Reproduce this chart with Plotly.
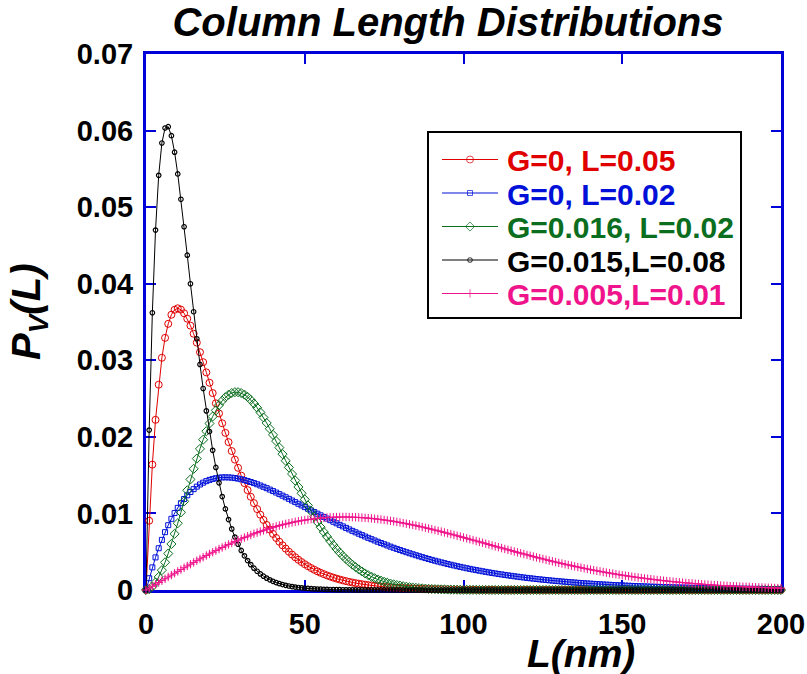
import plotly.graph_objects as go

# ---------------- data ----------------
L_nm = list(range(0, 201))  # column length grid, 1 nm steps

red_G0_L005 = [
    0.0, 0.009048, 0.016375, 0.022225, 0.026813, 0.030327, 0.032929, 0.034761, 0.035946, 0.036591,
    0.036788, 0.036616, 0.036143, 0.035429, 0.034524, 0.033470, 0.032304, 0.031056, 0.029754, 0.028418,
    0.027067, 0.025716, 0.024377, 0.023060, 0.021772, 0.020521, 0.019311, 0.018146, 0.017027, 0.015957,
    0.014936, 0.013965, 0.013044, 0.012171, 0.011347, 0.010569, 0.009837, 0.009148, 0.008501, 0.007894,
    0.007326, 0.006795, 0.006298, 0.005835, 0.005402, 0.004999, 0.004624, 0.004275, 0.003950, 0.003649,
    0.003369, 0.003109, 0.002869, 0.002646, 0.002439, 0.002248, 0.002071, 0.001907, 0.001756, 0.001616,
    0.001487, 0.001368, 0.001258, 0.001157, 0.001064, 0.000977, 0.000898, 0.000825, 0.000758, 0.000696,
    0.000638, 0.000586, 0.000538, 0.000493, 0.000452, 0.000415, 0.000380, 0.000349, 0.000320, 0.000293,
    0.000268, 0.000246, 0.000226, 0.000207, 0.000189, 0.000173, 0.000158, 0.000145, 0.000133, 0.000121,
    0.000111, 0.000102, 0.000093, 0.000085, 0.000078, 0.000071, 0.000065, 0.000059, 0.000054, 0.000050,
    0.000045, 0.000041, 0.000038, 0.000034, 0.000031, 0.000029, 0.000026, 0.000024, 0.000022, 0.000020,
    0.000018, 0.000017, 0.000015, 0.000014, 0.000013, 0.000012, 0.000011, 0.000010, 0.000009, 0.000008,
    0.000007, 0.000007, 0.000006, 0.000006, 0.000005, 0.000005, 0.000004, 0.000004, 0.000004, 0.000003,
    0.000003, 0.000003, 0.000002, 0.000002, 0.000002, 0.000002, 0.000002, 0.000001, 0.000001, 0.000001,
    0.000001, 0.000001, 0.000001, 0.000001, 0.000001, 0.000001, 0.0, 0.0, 0.0, 0.0,
    0.0, 0.0, 0.0, 0.0, 0.0, 0.0, 0.0, 0.0, 0.0, 0.0,
    0.0, 0.0, 0.0, 0.0, 0.0, 0.0, 0.0, 0.0, 0.0, 0.0,
    0.0, 0.0, 0.0, 0.0, 0.0, 0.0, 0.0, 0.0, 0.0, 0.0,
    0.0, 0.0, 0.0, 0.0, 0.0, 0.0, 0.0, 0.0, 0.0, 0.0,
    0.0, 0.0, 0.0, 0.0, 0.0, 0.0, 0.0, 0.0, 0.0, 0.0,
    0.0,
]

blue_G0_L002 = [
    0.0, 0.001537, 0.002954, 0.004257, 0.005454, 0.006550, 0.007552, 0.008465, 0.009295, 0.010047,
    0.010725, 0.011335, 0.011881, 0.012366, 0.012795, 0.013171, 0.013499, 0.013780, 0.014018, 0.014217,
    0.014379, 0.014505, 0.014600, 0.014666, 0.014703, 0.014715, 0.014704, 0.014671, 0.014617, 0.014546,
    0.014457, 0.014353, 0.014235, 0.014105, 0.013962, 0.013809, 0.013647, 0.013476, 0.013298, 0.013112,
    0.012921, 0.012725, 0.012524, 0.012320, 0.012112, 0.011902, 0.011689, 0.011475, 0.011259, 0.011043,
    0.010827, 0.010610, 0.010394, 0.010179, 0.009964, 0.009751, 0.009539, 0.009328, 0.009120, 0.008913,
    0.008709, 0.008507, 0.008307, 0.008110, 0.007916, 0.007724, 0.007536, 0.007350, 0.007167, 0.006987,
    0.006811, 0.006637, 0.006467, 0.006300, 0.006135, 0.005974, 0.005817, 0.005662, 0.005511, 0.005363,
    0.005218, 0.005076, 0.004937, 0.004801, 0.004668, 0.004539, 0.004412, 0.004288, 0.004168, 0.004050,
    0.003935, 0.003822, 0.003713, 0.003606, 0.003502, 0.003400, 0.003301, 0.003205, 0.003111, 0.003020,
    0.002931, 0.002844, 0.002759, 0.002677, 0.002597, 0.002519, 0.002444, 0.002370, 0.002298, 0.002229,
    0.002161, 0.002095, 0.002031, 0.001969, 0.001908, 0.001850, 0.001793, 0.001737, 0.001683, 0.001631,
    0.001580, 0.001531, 0.001483, 0.001436, 0.001391, 0.001348, 0.001305, 0.001264, 0.001224, 0.001185,
    0.001148, 0.001111, 0.001076, 0.001041, 0.001008, 0.000976, 0.000944, 0.000914, 0.000885, 0.000856,
    0.000828, 0.000802, 0.000776, 0.000750, 0.000726, 0.000702, 0.000680, 0.000657, 0.000636, 0.000615,
    0.000595, 0.000575, 0.000557, 0.000538, 0.000520, 0.000503, 0.000487, 0.000471, 0.000455, 0.000440,
    0.000425, 0.000411, 0.000398, 0.000384, 0.000372, 0.000359, 0.000347, 0.000335, 0.000324, 0.000313,
    0.000303, 0.000293, 0.000283, 0.000273, 0.000264, 0.000255, 0.000247, 0.000238, 0.000230, 0.000223,
    0.000215, 0.000208, 0.000201, 0.000194, 0.000188, 0.000181, 0.000175, 0.000169, 0.000163, 0.000158,
    0.000152, 0.000147, 0.000142, 0.000137, 0.000132, 0.000128, 0.000124, 0.000119, 0.000115, 0.000111,
    0.000107,
]

green_G0016_L002 = [
    0.0, 0.000115, 0.000450, 0.000987, 0.001706, 0.002589, 0.003615, 0.004762, 0.006009, 0.007334,
    0.008719, 0.010141, 0.011581, 0.013020, 0.014441, 0.015826, 0.017161, 0.018432, 0.019627, 0.020736,
    0.021748, 0.022658, 0.023458, 0.024145, 0.024716, 0.025169, 0.025506, 0.025726, 0.025833, 0.025830,
    0.025722, 0.025515, 0.025212, 0.024822, 0.024352, 0.023808, 0.023201, 0.022533, 0.021817, 0.021057,
    0.020264, 0.019442, 0.018599, 0.017743, 0.016879, 0.016013, 0.015150, 0.014296, 0.013455, 0.012631,
    0.011828, 0.011047, 0.010292, 0.009566, 0.008870, 0.008204, 0.007571, 0.006969, 0.006401, 0.005866,
    0.005363, 0.004892, 0.004453, 0.004044, 0.003664, 0.003313, 0.002989, 0.002691, 0.002417, 0.002166,
    0.001938, 0.001730, 0.001541, 0.001369, 0.001215, 0.001075, 0.000950, 0.000837, 0.000736, 0.000646,
    0.000566, 0.000495, 0.000432, 0.000376, 0.000327, 0.000284, 0.000246, 0.000212, 0.000183, 0.000157,
    0.000135, 0.000116, 0.000099, 0.000085, 0.000072, 0.000061, 0.000052, 0.000044, 0.000037, 0.000032,
    0.000027, 0.000022, 0.000018, 0.000015, 0.000013, 0.000010, 0.000008, 0.000007, 0.000005, 0.000004,
    0.000003, 0.0, 0.0, 0.0, 0.0, 0.0, 0.0, 0.0, 0.0, 0.0,
    0.0, 0.0, 0.0, 0.0, 0.0, 0.0, 0.0, 0.0, 0.0, 0.0,
    0.0, 0.0, 0.0, 0.0, 0.0, 0.0, 0.0, 0.0, 0.0, 0.0,
    0.0, 0.0, 0.0, 0.0, 0.0, 0.0, 0.0, 0.0, 0.0, 0.0,
    0.0, 0.0, 0.0, 0.0, 0.0, 0.0, 0.0, 0.0, 0.0, 0.0,
    0.0, 0.0, 0.0, 0.0, 0.0, 0.0, 0.0, 0.0, 0.0, 0.0,
    0.0, 0.0, 0.0, 0.0, 0.0, 0.0, 0.0, 0.0, 0.0, 0.0,
    0.0, 0.0, 0.0, 0.0, 0.0, 0.0, 0.0, 0.0, 0.0, 0.0,
    0.0, 0.0, 0.0, 0.0, 0.0, 0.0, 0.0, 0.0, 0.0, 0.0,
    0.0,
]

black_G0015_L008 = [
    0.0, 0.020883, 0.036208, 0.047004, 0.054152, 0.058380, 0.060330, 0.060503, 0.059328, 0.057179,
    0.054332, 0.051026, 0.047441, 0.043729, 0.039997, 0.036336, 0.032811, 0.029458, 0.026314, 0.023391,
    0.020700, 0.018241, 0.016011, 0.014000, 0.012198, 0.010592, 0.009201, 0.007981, 0.006913, 0.005980,
    0.005167, 0.004460, 0.003846, 0.003312, 0.002851, 0.002451, 0.002106, 0.001808, 0.001551, 0.001329,
    0.001139, 0.000975, 0.000834, 0.000713, 0.000610, 0.000521, 0.000445, 0.000380, 0.000324, 0.000276,
    0.000235, 0.000200, 0.000171, 0.000145, 0.000124, 0.000105, 0.000090, 0.000076, 0.000065, 0.000055,
    0.000047, 0.000040, 0.000034, 0.000029, 0.000024, 0.000021, 0.000017, 0.000015, 0.000013, 0.000011,
    0.000009, 0.000008, 0.000006, 0.000005, 0.000005, 0.000004, 0.000003, 0.000003, 0.000002, 0.000002,
    0.000002, 0.0, 0.0, 0.0, 0.0, 0.0, 0.0, 0.0, 0.0, 0.0,
    0.0, 0.0, 0.0, 0.0, 0.0, 0.0, 0.0, 0.0, 0.0, 0.0,
    0.0, 0.0, 0.0, 0.0, 0.0, 0.0, 0.0, 0.0, 0.0, 0.0,
    0.0, 0.0, 0.0, 0.0, 0.0, 0.0, 0.0, 0.0, 0.0, 0.0,
    0.0, 0.0, 0.0, 0.0, 0.0, 0.0, 0.0, 0.0, 0.0, 0.0,
    0.0, 0.0, 0.0, 0.0, 0.0, 0.0, 0.0, 0.0, 0.0, 0.0,
    0.0, 0.0, 0.0, 0.0, 0.0, 0.0, 0.0, 0.0, 0.0, 0.0,
    0.0, 0.0, 0.0, 0.0, 0.0, 0.0, 0.0, 0.0, 0.0, 0.0,
    0.0, 0.0, 0.0, 0.0, 0.0, 0.0, 0.0, 0.0, 0.0, 0.0,
    0.0, 0.0, 0.0, 0.0, 0.0, 0.0, 0.0, 0.0, 0.0, 0.0,
    0.0, 0.0, 0.0, 0.0, 0.0, 0.0, 0.0, 0.0, 0.0, 0.0,
    0.0, 0.0, 0.0, 0.0, 0.0, 0.0, 0.0, 0.0, 0.0, 0.0,
    0.0,
]

pink_G0005_L001 = [
    0.0, 0.000244, 0.000488, 0.000732, 0.000977, 0.001221, 0.001464, 0.001707, 0.001950, 0.002191,
    0.002430, 0.002669, 0.002906, 0.003141, 0.003373, 0.003604, 0.003832, 0.004058, 0.004281, 0.004501,
    0.004718, 0.004931, 0.005142, 0.005348, 0.005551, 0.005750, 0.005945, 0.006135, 0.006322, 0.006504,
    0.006681, 0.006854, 0.007021, 0.007184, 0.007342, 0.007495, 0.007643, 0.007785, 0.007922, 0.008054,
    0.008180, 0.008301, 0.008416, 0.008525, 0.008629, 0.008727, 0.008820, 0.008907, 0.008988, 0.009063,
    0.009133, 0.009197, 0.009256, 0.009308, 0.009355, 0.009397, 0.009433, 0.009463, 0.009488, 0.009508,
    0.009522, 0.009531, 0.009535, 0.009534, 0.009527, 0.009516, 0.009500, 0.009479, 0.009453, 0.009423,
    0.009388, 0.009349, 0.009306, 0.009259, 0.009207, 0.009152, 0.009092, 0.009030, 0.008963, 0.008893,
    0.008820, 0.008744, 0.008664, 0.008582, 0.008497, 0.008409, 0.008318, 0.008226, 0.008130, 0.008033,
    0.007934, 0.007833, 0.007730, 0.007625, 0.007519, 0.007411, 0.007302, 0.007192, 0.007081, 0.006969,
    0.006856, 0.006743, 0.006628, 0.006514, 0.006399, 0.006283, 0.006168, 0.006052, 0.005936, 0.005821,
    0.005705, 0.005590, 0.005476, 0.005361, 0.005248, 0.005135, 0.005022, 0.004910, 0.004799, 0.004689,
    0.004580, 0.004472, 0.004365, 0.004259, 0.004154, 0.004050, 0.003948, 0.003847, 0.003747, 0.003649,
    0.003551, 0.003456, 0.003362, 0.003269, 0.003178, 0.003088, 0.003000, 0.002913, 0.002828, 0.002745,
    0.002663, 0.002583, 0.002504, 0.002427, 0.002351, 0.002277, 0.002205, 0.002135, 0.002065, 0.001998,
    0.001932, 0.001868, 0.001805, 0.001744, 0.001684, 0.001626, 0.001569, 0.001514, 0.001461, 0.001408,
    0.001358, 0.001308, 0.001260, 0.001214, 0.001168, 0.001125, 0.001082, 0.001041, 0.001001, 0.000962,
    0.000924, 0.000888, 0.000853, 0.000819, 0.000786, 0.000754, 0.000723, 0.000693, 0.000664, 0.000637,
    0.000610, 0.000584, 0.000559, 0.000535, 0.000512, 0.000490, 0.000468, 0.000448, 0.000428, 0.000409,
    0.000390, 0.000373, 0.000356, 0.000339, 0.000324, 0.000309, 0.000294, 0.000280, 0.000267, 0.000254,
    0.000242,
]

series_labels = ["G=0, L=0.05", "G=0, L=0.02", "G=0.016, L=0.02", "G=0.015,L=0.08", "G=0.005,L=0.01"]
x_ticks = [0, 50, 100, 150, 200]
y_ticks = [0, 0.01, 0.02, 0.03, 0.04, 0.05, 0.06, 0.07]

# ---------------- styling / layout ----------------
FONT = "Liberation Sans, Arial, Helvetica, sans-serif"
AXIS_BLUE = "#0000d8"
series_styles = [
    dict(color="#e00000", symbol="circle-open", size=7, lw=1.0),
    dict(color="#0010d8", symbol="square-open", size=5, lw=1.0),
    dict(color="#0a6e1e", symbol="diamond-open", size=7, lw=1.0),
    dict(color="#000000", symbol="circle-open", size=4.5, lw=1.2),
    dict(color="#f0148c", symbol="cross-thin-open", size=6, lw=1.0),
]
series_values = [red_G0_L005, blue_G0_L002, green_G0016_L002, black_G0015_L008, pink_G0005_L001]

# plot area in pixels (figure 807 x 674)
PL, PR, PT, PB = 146, 781, 54, 590

fig = go.Figure()
for label, vals, st in zip(series_labels, series_values, series_styles):
    fig.add_trace(go.Scatter(
        x=L_nm, y=vals, mode="lines+markers", name=label, showlegend=False,
        line=dict(color=st["color"], width=1),
        marker=dict(symbol=st["symbol"], size=st["size"], color=st["color"],
                    line=dict(color=st["color"], width=st["lw"])),
        cliponaxis=False,
    ))

# ---- legend box drawn on a pixel-scaled overlay axis pair (x2/y2) ----
LEG_BOX = dict(x0=428, x1=741, y0=132, y1=318)
LEG_ROWS = [159.5, 193, 226.5, 260, 293.5]
LEG_LINE_X = [442, 470, 498]
LEG_TEXT_X = 505

shapes = [dict(type="rect", xref="x2", yref="y2", layer="below",
               line=dict(color="black", width=2), fillcolor="white", **LEG_BOX)]
annotations = []
for label, st, yr in zip(series_labels, series_styles, LEG_ROWS):
    fig.add_trace(go.Scatter(
        x=LEG_LINE_X, y=[yr] * 3, xaxis="x2", yaxis="y2", mode="lines+markers",
        showlegend=False, hoverinfo="skip",
        line=dict(color=st["color"], width=1),
        marker=dict(symbol=st["symbol"], size=[0, st["size"], 0], color=st["color"],
                    line=dict(color=st["color"], width=st["lw"])),
    ))
    annotations.append(dict(
        text=label, xref="x2", yref="y2", x=LEG_TEXT_X, y=yr + 1,
        xanchor="left", yanchor="middle", showarrow=False,
        font=dict(family=FONT, size=30, color=st["color"], weight="bold"),
    ))

annotations += [
    dict(text="L(nm)", xref="paper", yref="paper", x=(581 - PL) / (PR - PL),
         y=(PB - 653) / (PB - PT), xanchor="center", yanchor="middle", showarrow=False,
         font=dict(family=FONT, size=39, color="black", weight="bold", style="italic")),
    dict(text="P<sub>V</sub>(L)", xref="paper", yref="paper", x=(29 - PL) / (PR - PL),
         y=(PB - 312) / (PB - PT), xanchor="center", yanchor="middle", textangle=-90,
         showarrow=False,
         font=dict(family=FONT, size=40, color="black", weight="bold", style="italic")),
]

axis_common = dict(
    showline=True, linecolor=AXIS_BLUE, linewidth=3, mirror="ticks",
    ticks="inside", ticklen=10, tickwidth=2, tickcolor=AXIS_BLUE,
    showgrid=False, zeroline=False, layer="below traces", automargin=False,
    tickfont=dict(family=FONT, size=29, color="black", weight="bold"),
)

fig.update_layout(
    width=807, height=674,
    margin=dict(l=PL, r=807 - PR, t=PT, b=674 - PB, autoexpand=False),
    paper_bgcolor="white", plot_bgcolor="white",
    font=dict(family=FONT, color="black"),
    showlegend=False,
    xaxis=dict(range=[0, 200], tickvals=x_ticks, ticklabelstandoff=6, **axis_common),
    yaxis=dict(range=[0, 0.07], tickvals=y_ticks, ticklabelstandoff=4, **axis_common),
    xaxis2=dict(overlaying="x", anchor="y2", range=[PL, PR], visible=False, fixedrange=True),
    yaxis2=dict(overlaying="y", anchor="x2", range=[PB, PT], visible=False, fixedrange=True),
    title=dict(text="Column Length Distributions", xref="container", yref="container",
               x=448 / 807, xanchor="center", y=1 - 22 / 674, yanchor="middle",
               font=dict(family=FONT, size=40, color="black", weight="bold", style="italic")),
    shapes=shapes,
    annotations=annotations,
)

# remove the default 8px page margin so the 807x674 figure fills the window exactly
fig.write_html(
    "out.html",
    config={"displayModeBar": False},
    post_script="document.body.style.margin='0';document.body.style.overflow='hidden';",
)
